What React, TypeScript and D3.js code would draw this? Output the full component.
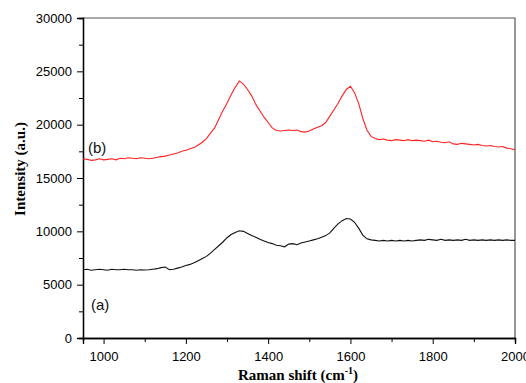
import { useEffect, useRef } from 'react';
import * as d3 from 'd3';

// Raman shift (cm-1), shared by both spectra
const shift = [
  950, 960, 970, 980, 990, 1000, 1010, 1020, 1030, 1040, 1050, 1060, 1070, 1080, 1090,
  1100, 1110, 1120, 1130, 1140, 1150, 1160, 1170, 1180, 1190, 1200, 1210, 1220, 1230, 1240,
  1250, 1260, 1270, 1280, 1290, 1300, 1310, 1320, 1330, 1340, 1350, 1360, 1370, 1380, 1390,
  1400, 1410, 1420, 1430, 1440, 1450, 1460, 1470, 1480, 1490, 1500, 1510, 1520, 1530, 1540,
  1550, 1560, 1570, 1580, 1590, 1600, 1610, 1620, 1630, 1640, 1650, 1660, 1670, 1680, 1690,
  1700, 1710, 1720, 1730, 1740, 1750, 1760, 1770, 1780, 1790, 1800, 1810, 1820, 1830, 1840,
  1850, 1860, 1870, 1880, 1890, 1900, 1910, 1920, 1930, 1940, 1950, 1960, 1970, 1980, 1990,
  2000,
];

// spectrum (b), red
const intensityB = [
  16800, 16750, 16650, 16700, 16800, 16700, 16750, 16800, 16700, 16850, 16800, 16900, 16850, 16800, 16900,
  16850, 16800, 16850, 16950, 17000, 17050, 17150, 17250, 17350, 17500, 17600, 17750, 17850, 18100, 18350,
  18700, 19200, 19700, 20500, 21300, 22000, 22800, 23500, 24100, 23800, 23300, 22700, 21900, 21300, 20700,
  20200, 19700, 19450, 19400, 19450, 19500, 19450, 19500, 19350, 19300, 19400, 19600, 19750, 19900, 20200,
  20800, 21400, 22000, 22700, 23300, 23600, 23000, 22000, 20600, 19500, 18900, 18700, 18600, 18650, 18550,
  18500, 18600, 18550, 18500, 18600, 18500, 18550, 18500, 18450, 18550, 18400, 18450, 18350, 18300, 18400,
  18200, 18150, 18250, 18200, 18150, 18100, 18150, 18050, 18000, 18050, 17950, 17900, 17950, 17800, 17750,
  17650,
];

// spectrum (a), black
const intensityA = [
  6400, 6450, 6350, 6400, 6450, 6400, 6350, 6450, 6400, 6400, 6450, 6400, 6400, 6350, 6400,
  6380, 6400, 6450, 6500, 6600, 6650, 6400, 6450, 6550, 6650, 6800, 6900, 7050, 7250, 7450,
  7650, 7950, 8300, 8650, 9000, 9400, 9700, 9900, 10050, 10000, 9800, 9600, 9450, 9250, 9100,
  8950, 8850, 8700, 8650, 8550, 8800, 8850, 8750, 8900, 9000, 9100, 9200, 9300, 9450, 9600,
  9850, 10300, 10700, 11000, 11200, 11150, 10850, 10300, 9650, 9300, 9200, 9150, 9100, 9150, 9100,
  9150, 9100, 9150, 9100, 9150, 9100, 9150, 9200, 9150, 9250, 9200, 9150, 9250, 9150, 9200,
  9150, 9200, 9150, 9250, 9150, 9200, 9150, 9200, 9150, 9200, 9150, 9200, 9150, 9200, 9150,
  9150,
];

const xMajor = [1000, 1200, 1400, 1600, 1800, 2000];
const xMinor = [1100, 1300, 1500, 1700, 1900];
const yMajor = [0, 5000, 10000, 15000, 20000, 25000, 30000];
const yMinor = [2500, 7500, 12500, 17500, 22500, 27500];

export default function App() {
  const svgRef = useRef<SVGSVGElement>(null);

  useEffect(() => {
    if (!svgRef.current) return;
    const svg = d3.select(svgRef.current);
    svg.selectAll('*').remove();

    const width = 526;
    const height = 383;
    const left = 83, right = 515, top = 18, bottom = 338;

    const x = d3.scaleLinear().domain([950, 2000]).range([left, right]);
    const y = d3.scaleLinear().domain([0, 30000]).range([bottom, top]);

    svg.attr('width', width).attr('height', height);

    // frame, top and right
    svg.append('path')
      .attr('d', `M${left},${top}H${right}V${bottom}`)
      .attr('fill', 'none')
      .attr('stroke', '#555')
      .attr('stroke-width', 1.2);

    const font = 'Arial, "Liberation Sans", sans-serif';

    // Bottom axis
    const gx = svg.append('g').attr('transform', `translate(0,${bottom})`);
    gx.call(d3.axisBottom(x).tickValues(xMajor).tickSize(6).tickPadding(8).tickFormat(d => `${d}`));
    gx.append('g').call(d3.axisBottom(x).tickValues(xMinor).tickSize(4).tickFormat(() => ''));
    gx.selectAll('.domain').attr('stroke', '#000').attr('stroke-width', 1.3);
    gx.selectAll('line').attr('stroke', '#000').attr('stroke-width', 1);
    gx.selectAll('text').attr('fill', '#000').attr('font-size', '13px').attr('font-family', font);

    // Left axis
    const gy = svg.append('g').attr('transform', `translate(${left},0)`);
    gy.call(d3.axisLeft(y).tickValues(yMajor).tickSize(6).tickPadding(5).tickFormat(d => `${d}`));
    gy.append('g').call(d3.axisLeft(y).tickValues(yMinor).tickSize(4).tickFormat(() => ''));
    gy.selectAll('.domain').attr('stroke', '#000').attr('stroke-width', 1.3);
    gy.selectAll('line').attr('stroke', '#000').attr('stroke-width', 1);
    gy.selectAll('text').attr('fill', '#000').attr('font-size', '13px').attr('font-family', font);

    const line = d3.line<number>()
      .x((_, i) => x(shift[i]))
      .y(d => y(d));

    svg.append('path')
      .datum(intensityA)
      .attr('fill', 'none')
      .attr('stroke', '#111')
      .attr('stroke-width', 1.1)
      .attr('d', line);

    svg.append('path')
      .datum(intensityB)
      .attr('fill', 'none')
      .attr('stroke', '#f22')
      .attr('stroke-width', 1.1)
      .attr('d', line);

    // curve labels
    svg.append('text')
      .attr('x', 88)
      .attr('y', 153)
      .attr('font-family', font)
      .attr('font-size', '15px')
      .attr('fill', '#111')
      .text('(b)');

    svg.append('text')
      .attr('x', 91)
      .attr('y', 310)
      .attr('font-family', font)
      .attr('font-size', '15px')
      .attr('fill', '#111')
      .text('(a)');

    // Axis titles
    const serif = '"Times New Roman", "Liberation Serif", serif';
    const xt = svg.append('text')
      .attr('x', 298)
      .attr('y', 380)
      .attr('text-anchor', 'middle')
      .attr('font-family', serif)
      .attr('font-weight', 'bold')
      .attr('font-size', '15px')
      .attr('fill', '#000');
    xt.append('tspan').text('Raman shift (cm');
    xt.append('tspan').attr('dy', -6).attr('font-size', '10px').text('-1');
    xt.append('tspan').attr('dy', 6).text(')');

    svg.append('text')
      .attr('transform', 'rotate(-90)')
      .attr('x', -169)
      .attr('y', 25)
      .attr('text-anchor', 'middle')
      .attr('font-family', serif)
      .attr('font-weight', 'bold')
      .attr('font-size', '15px')
      .attr('fill', '#000')
      .text('Intensity (a.u.)');
  }, []);

  return (
    <div style={{ position: 'absolute', left: 0, top: 0, background: '#fff' }}>
      <svg ref={svgRef} style={{ display: 'block' }} />
    </div>
  );
}
